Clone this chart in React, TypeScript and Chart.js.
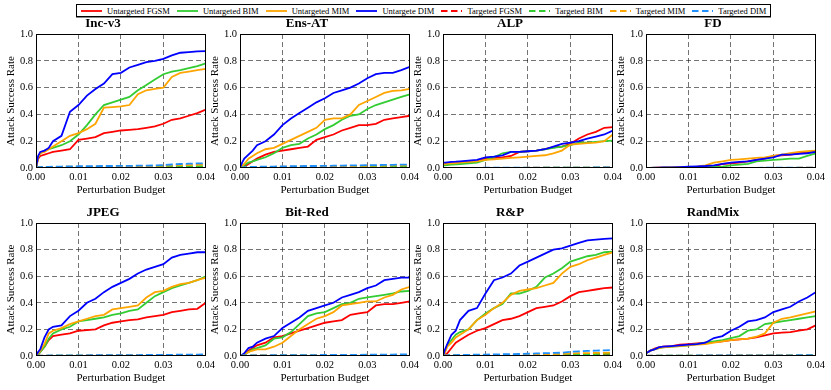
import React, { useEffect, useRef } from 'react';
import { Chart, registerables } from 'chart.js';

Chart.register(...registerables);

// ---------- data ----------
const budgets = [0, 0.0005, 0.001, 0.002, 0.003, 0.004, 0.006, 0.008, 0.010, 0.012, 0.014, 0.016, 0.018, 0.020, 0.022, 0.024, 0.026, 0.028, 0.030, 0.032, 0.034, 0.036, 0.038, 0.040];
const xTicks = [0, 0.01, 0.02, 0.03, 0.04];
const yTicks = [0, 0.2, 0.4, 0.6, 0.8, 1.0];
const seriesNames = ['Untargeted FGSM', 'Untargeted BIM', 'Untargeted MIM', 'Untargete DIM', 'Targeted FGSM', 'Targeted BIM', 'Targeted MIM', 'Targeted DIM'];
const panelTitles = ['Inc-v3', 'Ens-AT', 'ALP', 'FD', 'JPEG', 'Bit-Red', 'R&P', 'RandMix'];

// Inc-v3
const incUFgsm = [0, 0.07, 0.09, 0.10, 0.11, 0.12, 0.13, 0.14, 0.21, 0.22, 0.23, 0.26, 0.27, 0.28, 0.285, 0.29, 0.30, 0.31, 0.33, 0.36, 0.37, 0.39, 0.41, 0.435];
const incUBim = [0, 0.08, 0.11, 0.13, 0.14, 0.15, 0.17, 0.20, 0.25, 0.32, 0.40, 0.47, 0.49, 0.51, 0.53, 0.58, 0.62, 0.66, 0.70, 0.72, 0.73, 0.745, 0.76, 0.78];
const incUMim = [0, 0.08, 0.11, 0.12, 0.14, 0.16, 0.20, 0.24, 0.26, 0.29, 0.33, 0.45, 0.455, 0.46, 0.47, 0.55, 0.58, 0.59, 0.60, 0.68, 0.71, 0.72, 0.73, 0.74];
const incUDim = [0, 0.09, 0.12, 0.13, 0.15, 0.20, 0.24, 0.42, 0.47, 0.54, 0.59, 0.63, 0.70, 0.71, 0.75, 0.77, 0.79, 0.80, 0.815, 0.84, 0.86, 0.865, 0.87, 0.872];
const incTFgsm = [0, 0.002, 0.002, 0.002, 0.002, 0.002, 0.002, 0.002, 0.002, 0.002, 0.002, 0.003, 0.003, 0.003, 0.003, 0.003, 0.003, 0.003, 0.004, 0.004, 0.004, 0.004, 0.004, 0.004];
const incTBim = [0, 0.004, 0.005, 0.005, 0.006, 0.006, 0.007, 0.007, 0.008, 0.008, 0.008, 0.009, 0.009, 0.010, 0.010, 0.010, 0.011, 0.011, 0.012, 0.012, 0.013, 0.013, 0.014, 0.015];
const incTMim = [0, 0.005, 0.006, 0.007, 0.008, 0.008, 0.009, 0.010, 0.010, 0.011, 0.011, 0.012, 0.012, 0.013, 0.013, 0.014, 0.015, 0.016, 0.018, 0.020, 0.021, 0.022, 0.024, 0.025];
const incTDim = [0, 0.006, 0.007, 0.008, 0.009, 0.010, 0.011, 0.012, 0.013, 0.013, 0.014, 0.015, 0.015, 0.016, 0.016, 0.017, 0.018, 0.019, 0.022, 0.026, 0.030, 0.032, 0.034, 0.035];

// Ens-AT
const ensUFgsm = [0, 0.005, 0.01, 0.03, 0.05, 0.07, 0.10, 0.12, 0.13, 0.14, 0.15, 0.16, 0.21, 0.23, 0.25, 0.28, 0.30, 0.32, 0.32, 0.33, 0.36, 0.37, 0.38, 0.39];
const ensUBim = [0, 0.01, 0.02, 0.04, 0.05, 0.06, 0.08, 0.11, 0.15, 0.17, 0.18, 0.22, 0.25, 0.29, 0.32, 0.36, 0.39, 0.40, 0.44, 0.47, 0.49, 0.51, 0.53, 0.55];
const ensUMim = [0, 0.015, 0.03, 0.07, 0.09, 0.11, 0.14, 0.15, 0.18, 0.21, 0.24, 0.27, 0.30, 0.36, 0.37, 0.37, 0.40, 0.47, 0.50, 0.53, 0.56, 0.575, 0.58, 0.59];
const ensUDim = [0, 0.04, 0.07, 0.10, 0.13, 0.17, 0.20, 0.25, 0.32, 0.37, 0.41, 0.45, 0.49, 0.52, 0.56, 0.58, 0.60, 0.63, 0.67, 0.70, 0.71, 0.71, 0.73, 0.755];
const ensTFgsm = [0, 0.002, 0.002, 0.003, 0.003, 0.003, 0.003, 0.004, 0.004, 0.004, 0.004, 0.005, 0.005, 0.005, 0.005, 0.005, 0.006, 0.006, 0.006, 0.006, 0.006, 0.007, 0.007, 0.007];
const ensTBim = [0, 0.003, 0.004, 0.005, 0.005, 0.006, 0.006, 0.007, 0.007, 0.008, 0.008, 0.009, 0.009, 0.010, 0.010, 0.010, 0.011, 0.011, 0.012, 0.012, 0.012, 0.013, 0.013, 0.013];
const ensTMim = [0, 0.004, 0.005, 0.006, 0.007, 0.007, 0.008, 0.009, 0.010, 0.010, 0.011, 0.012, 0.012, 0.013, 0.014, 0.014, 0.015, 0.016, 0.017, 0.017, 0.018, 0.019, 0.019, 0.020];
const ensTDim = [0, 0.005, 0.006, 0.007, 0.008, 0.009, 0.010, 0.011, 0.012, 0.013, 0.014, 0.015, 0.015, 0.016, 0.017, 0.018, 0.019, 0.020, 0.021, 0.022, 0.023, 0.024, 0.025, 0.026];

// ALP
const alpUFgsm = [0.03, 0.03, 0.032, 0.035, 0.037, 0.04, 0.045, 0.05, 0.07, 0.075, 0.08, 0.09, 0.12, 0.125, 0.13, 0.14, 0.155, 0.16, 0.18, 0.22, 0.25, 0.27, 0.30, 0.305];
const alpUBim = [0.02, 0.02, 0.022, 0.025, 0.027, 0.03, 0.035, 0.04, 0.06, 0.08, 0.11, 0.12, 0.12, 0.125, 0.13, 0.14, 0.15, 0.16, 0.17, 0.19, 0.19, 0.195, 0.20, 0.205];
const alpUMim = [0.03, 0.03, 0.032, 0.035, 0.037, 0.04, 0.045, 0.05, 0.06, 0.065, 0.07, 0.075, 0.08, 0.085, 0.09, 0.095, 0.11, 0.13, 0.175, 0.18, 0.185, 0.19, 0.20, 0.25];
const alpUDim = [0.04, 0.04, 0.042, 0.045, 0.047, 0.05, 0.055, 0.06, 0.08, 0.085, 0.095, 0.12, 0.12, 0.125, 0.13, 0.14, 0.16, 0.18, 0.19, 0.20, 0.22, 0.235, 0.25, 0.28];
const alpTFgsm = [0, 0, 0, 0, 0, 0, 0, 0, 0, 0, 0, 0, 0.001, 0.001, 0.001, 0.001, 0.001, 0.001, 0.001, 0.001, 0.001, 0.001, 0.002, 0.002];
const alpTBim = [0, 0, 0, 0, 0, 0, 0, 0.001, 0.001, 0.001, 0.001, 0.001, 0.001, 0.001, 0.001, 0.002, 0.002, 0.002, 0.002, 0.002, 0.002, 0.002, 0.002, 0.002];
const alpTMim = [0, 0, 0, 0, 0, 0.001, 0.001, 0.001, 0.001, 0.001, 0.001, 0.001, 0.001, 0.002, 0.002, 0.002, 0.002, 0.002, 0.002, 0.002, 0.003, 0.003, 0.003, 0.003];
const alpTDim = [0, 0.001, 0.001, 0.001, 0.001, 0.001, 0.001, 0.001, 0.002, 0.002, 0.002, 0.002, 0.002, 0.002, 0.002, 0.003, 0.003, 0.003, 0.003, 0.003, 0.003, 0.004, 0.004, 0.004];

// FD
const fdUFgsm = [0, 0, 0.001, 0.001, 0.002, 0.002, 0.003, 0.004, 0.005, 0.006, 0.008, 0.01, 0.03, 0.035, 0.04, 0.05, 0.06, 0.07, 0.09, 0.095, 0.10, 0.11, 0.115, 0.12];
const fdUBim = [0, 0, 0.001, 0.001, 0.001, 0.002, 0.002, 0.003, 0.004, 0.005, 0.006, 0.008, 0.01, 0.02, 0.025, 0.03, 0.05, 0.055, 0.06, 0.065, 0.07, 0.07, 0.09, 0.11];
const fdUMim = [0, 0, 0.001, 0.002, 0.002, 0.003, 0.004, 0.005, 0.007, 0.01, 0.02, 0.04, 0.05, 0.06, 0.065, 0.07, 0.075, 0.08, 0.09, 0.10, 0.11, 0.12, 0.125, 0.13];
const fdUDim = [0, 0, 0.001, 0.002, 0.003, 0.004, 0.005, 0.007, 0.01, 0.012, 0.015, 0.02, 0.03, 0.04, 0.045, 0.05, 0.06, 0.07, 0.08, 0.10, 0.10, 0.105, 0.11, 0.12];
const fdTFgsm = [0, 0, 0, 0, 0, 0, 0, 0, 0, 0, 0, 0, 0, 0, 0, 0, 0, 0.001, 0.001, 0.001, 0.001, 0.001, 0.001, 0.001];
const fdTBim = [0, 0, 0, 0, 0, 0, 0, 0, 0, 0, 0, 0, 0, 0.001, 0.001, 0.001, 0.001, 0.001, 0.001, 0.001, 0.001, 0.001, 0.001, 0.001];
const fdTMim = [0, 0, 0, 0, 0, 0, 0, 0, 0, 0, 0, 0.001, 0.001, 0.001, 0.001, 0.001, 0.001, 0.001, 0.001, 0.001, 0.001, 0.002, 0.002, 0.002];
const fdTDim = [0, 0, 0, 0, 0, 0, 0, 0, 0, 0.001, 0.001, 0.001, 0.001, 0.001, 0.001, 0.001, 0.001, 0.002, 0.002, 0.002, 0.002, 0.002, 0.002, 0.002];

// JPEG
const jpgUFgsm = [0, 0.01, 0.03, 0.07, 0.12, 0.15, 0.16, 0.17, 0.19, 0.195, 0.20, 0.23, 0.25, 0.26, 0.27, 0.275, 0.29, 0.30, 0.31, 0.33, 0.34, 0.35, 0.355, 0.40];
const jpgUBim = [0, 0.01, 0.03, 0.07, 0.13, 0.17, 0.20, 0.22, 0.26, 0.27, 0.28, 0.29, 0.31, 0.32, 0.34, 0.35, 0.40, 0.45, 0.48, 0.51, 0.53, 0.55, 0.57, 0.60];
const jpgUMim = [0, 0.02, 0.04, 0.09, 0.17, 0.19, 0.21, 0.24, 0.26, 0.28, 0.30, 0.31, 0.35, 0.36, 0.37, 0.38, 0.44, 0.48, 0.49, 0.52, 0.54, 0.55, 0.57, 0.59];
const jpgUDim = [0, 0.03, 0.05, 0.14, 0.20, 0.22, 0.23, 0.30, 0.34, 0.40, 0.43, 0.48, 0.52, 0.55, 0.58, 0.62, 0.65, 0.67, 0.69, 0.74, 0.76, 0.77, 0.78, 0.78];
const jpgTFgsm = [0, 0.001, 0.001, 0.001, 0.001, 0.001, 0.001, 0.001, 0.001, 0.002, 0.002, 0.002, 0.002, 0.002, 0.002, 0.002, 0.002, 0.002, 0.002, 0.003, 0.003, 0.003, 0.003, 0.003];
const jpgTBim = [0, 0.001, 0.001, 0.001, 0.001, 0.002, 0.002, 0.002, 0.002, 0.002, 0.002, 0.003, 0.003, 0.003, 0.003, 0.003, 0.003, 0.003, 0.004, 0.004, 0.004, 0.004, 0.004, 0.004];
const jpgTMim = [0, 0.002, 0.002, 0.002, 0.002, 0.002, 0.003, 0.003, 0.003, 0.003, 0.003, 0.004, 0.004, 0.004, 0.004, 0.004, 0.005, 0.005, 0.005, 0.005, 0.006, 0.006, 0.006, 0.007];
const jpgTDim = [0, 0.003, 0.003, 0.003, 0.004, 0.004, 0.004, 0.005, 0.005, 0.005, 0.006, 0.006, 0.006, 0.007, 0.007, 0.007, 0.008, 0.008, 0.009, 0.009, 0.010, 0.010, 0.011, 0.012];

// Bit-Red
const bitUFgsm = [0, 0.005, 0.01, 0.04, 0.06, 0.08, 0.10, 0.14, 0.15, 0.17, 0.19, 0.21, 0.23, 0.25, 0.26, 0.27, 0.31, 0.32, 0.33, 0.38, 0.39, 0.39, 0.40, 0.41];
const bitUBim = [0, 0.005, 0.01, 0.03, 0.05, 0.06, 0.08, 0.13, 0.14, 0.18, 0.24, 0.30, 0.32, 0.33, 0.36, 0.39, 0.40, 0.43, 0.44, 0.45, 0.46, 0.47, 0.485, 0.49];
const bitUMim = [0, 0.005, 0.01, 0.03, 0.04, 0.05, 0.05, 0.07, 0.10, 0.15, 0.20, 0.24, 0.28, 0.30, 0.33, 0.38, 0.39, 0.40, 0.41, 0.41, 0.44, 0.46, 0.50, 0.52];
const bitUDim = [0, 0.01, 0.02, 0.06, 0.07, 0.10, 0.13, 0.15, 0.21, 0.25, 0.29, 0.34, 0.36, 0.38, 0.40, 0.44, 0.46, 0.48, 0.51, 0.53, 0.57, 0.58, 0.59, 0.59];
const bitTFgsm = [0, 0.001, 0.001, 0.001, 0.002, 0.002, 0.002, 0.002, 0.002, 0.002, 0.003, 0.003, 0.003, 0.003, 0.003, 0.003, 0.003, 0.004, 0.004, 0.004, 0.004, 0.004, 0.004, 0.004];
const bitTBim = [0, 0.002, 0.002, 0.002, 0.003, 0.003, 0.003, 0.003, 0.004, 0.004, 0.004, 0.004, 0.004, 0.005, 0.005, 0.005, 0.005, 0.005, 0.006, 0.006, 0.006, 0.006, 0.006, 0.006];
const bitTMim = [0, 0.002, 0.003, 0.003, 0.003, 0.004, 0.004, 0.004, 0.005, 0.005, 0.005, 0.005, 0.006, 0.006, 0.006, 0.006, 0.007, 0.007, 0.007, 0.007, 0.008, 0.008, 0.008, 0.008];
const bitTDim = [0, 0.003, 0.004, 0.004, 0.005, 0.005, 0.005, 0.006, 0.006, 0.006, 0.007, 0.007, 0.007, 0.008, 0.008, 0.008, 0.009, 0.009, 0.010, 0.010, 0.011, 0.011, 0.012, 0.012];

// R&P
const rpUFgsm = [0, 0.01, 0.02, 0.06, 0.10, 0.12, 0.16, 0.19, 0.21, 0.24, 0.27, 0.28, 0.30, 0.33, 0.36, 0.37, 0.38, 0.41, 0.45, 0.48, 0.49, 0.50, 0.51, 0.515];
const rpUBim = [0, 0.04, 0.08, 0.12, 0.16, 0.18, 0.20, 0.27, 0.32, 0.36, 0.39, 0.47, 0.47, 0.49, 0.52, 0.59, 0.62, 0.66, 0.71, 0.73, 0.75, 0.76, 0.78, 0.785];
const rpUMim = [0, 0.03, 0.07, 0.10, 0.14, 0.16, 0.20, 0.27, 0.31, 0.36, 0.40, 0.46, 0.49, 0.50, 0.51, 0.53, 0.55, 0.62, 0.67, 0.69, 0.72, 0.74, 0.76, 0.78];
const rpUDim = [0, 0.05, 0.09, 0.16, 0.19, 0.27, 0.34, 0.36, 0.47, 0.57, 0.59, 0.62, 0.68, 0.71, 0.74, 0.77, 0.80, 0.81, 0.83, 0.85, 0.87, 0.875, 0.88, 0.885];
const rpTFgsm = [0, 0.002, 0.003, 0.003, 0.004, 0.004, 0.005, 0.005, 0.006, 0.006, 0.006, 0.007, 0.007, 0.008, 0.008, 0.008, 0.009, 0.009, 0.010, 0.011, 0.011, 0.012, 0.012, 0.012];
const rpTBim = [0, 0.002, 0.003, 0.004, 0.004, 0.005, 0.005, 0.006, 0.006, 0.007, 0.007, 0.008, 0.008, 0.009, 0.009, 0.010, 0.010, 0.011, 0.013, 0.014, 0.015, 0.015, 0.016, 0.016];
const rpTMim = [0, 0.003, 0.004, 0.004, 0.005, 0.005, 0.006, 0.006, 0.007, 0.008, 0.008, 0.009, 0.010, 0.011, 0.012, 0.013, 0.014, 0.016, 0.020, 0.021, 0.022, 0.023, 0.024, 0.025];
const rpTDim = [0, 0.004, 0.005, 0.006, 0.007, 0.008, 0.009, 0.010, 0.011, 0.012, 0.013, 0.014, 0.015, 0.017, 0.019, 0.021, 0.023, 0.025, 0.032, 0.035, 0.038, 0.040, 0.043, 0.045];

// RandMix
const rmUFgsm = [0.02, 0.03, 0.04, 0.055, 0.065, 0.07, 0.075, 0.085, 0.09, 0.095, 0.10, 0.105, 0.11, 0.12, 0.125, 0.13, 0.14, 0.155, 0.17, 0.175, 0.18, 0.19, 0.20, 0.23];
const rmUBim = [0.02, 0.03, 0.04, 0.05, 0.06, 0.065, 0.07, 0.075, 0.08, 0.09, 0.10, 0.11, 0.12, 0.135, 0.15, 0.19, 0.20, 0.24, 0.25, 0.26, 0.27, 0.28, 0.29, 0.30];
const rmUMim = [0.02, 0.03, 0.04, 0.05, 0.06, 0.065, 0.07, 0.075, 0.08, 0.085, 0.09, 0.10, 0.11, 0.12, 0.125, 0.13, 0.145, 0.17, 0.25, 0.28, 0.29, 0.305, 0.32, 0.335];
const rmUDim = [0.02, 0.03, 0.04, 0.05, 0.065, 0.07, 0.075, 0.08, 0.085, 0.09, 0.10, 0.135, 0.15, 0.19, 0.22, 0.26, 0.27, 0.29, 0.33, 0.35, 0.37, 0.41, 0.44, 0.48];
const rmTFgsm = [0, 0.001, 0.001, 0.001, 0.001, 0.001, 0.001, 0.001, 0.001, 0.001, 0.002, 0.002, 0.002, 0.002, 0.002, 0.002, 0.002, 0.002, 0.002, 0.002, 0.002, 0.003, 0.003, 0.003];
const rmTBim = [0, 0.001, 0.001, 0.001, 0.002, 0.002, 0.002, 0.002, 0.002, 0.002, 0.002, 0.002, 0.003, 0.003, 0.003, 0.003, 0.003, 0.003, 0.003, 0.003, 0.004, 0.004, 0.004, 0.004];
const rmTMim = [0, 0.002, 0.002, 0.002, 0.002, 0.002, 0.002, 0.003, 0.003, 0.003, 0.003, 0.003, 0.003, 0.003, 0.004, 0.004, 0.004, 0.004, 0.004, 0.004, 0.005, 0.005, 0.005, 0.005];
const rmTDim = [0, 0.002, 0.002, 0.003, 0.003, 0.003, 0.003, 0.003, 0.003, 0.004, 0.004, 0.004, 0.004, 0.004, 0.004, 0.005, 0.005, 0.005, 0.005, 0.005, 0.005, 0.006, 0.006, 0.006];

const panelSeries = [
  [incUFgsm, incUBim, incUMim, incUDim, incTFgsm, incTBim, incTMim, incTDim],
  [ensUFgsm, ensUBim, ensUMim, ensUDim, ensTFgsm, ensTBim, ensTMim, ensTDim],
  [alpUFgsm, alpUBim, alpUMim, alpUDim, alpTFgsm, alpTBim, alpTMim, alpTDim],
  [fdUFgsm, fdUBim, fdUMim, fdUDim, fdTFgsm, fdTBim, fdTMim, fdTDim],
  [jpgUFgsm, jpgUBim, jpgUMim, jpgUDim, jpgTFgsm, jpgTBim, jpgTMim, jpgTDim],
  [bitUFgsm, bitUBim, bitUMim, bitUDim, bitTFgsm, bitTBim, bitTMim, bitTDim],
  [rpUFgsm, rpUBim, rpUMim, rpUDim, rpTFgsm, rpTBim, rpTMim, rpTDim],
  [rmUFgsm, rmUBim, rmUMim, rmUDim, rmTFgsm, rmTBim, rmTMim, rmTDim],
];

// ---------- styles ----------
const FONT = '"Liberation Serif", "Times New Roman", serif';
const seriesColors = ['#ff0000', '#33cc33', '#ffa500', '#0000ff', '#ff0000', '#33cc33', '#ffa500', '#1e90ff'];
const DASH = [7, 3];
const GRID_COLOR = 'rgba(0,0,0,0.55)';

const plotLefts = [36, 240, 443, 646];
const plotTops = [34, 223];
const plotHeights = [134, 133];
const Y_AXIS_W = 36;
const X_AXIS_H = 32;
const TITLE_H = 20;
const PLOT_W = 170;
const PAD_R = 12;

const framePlugin = {
  id: 'frame',
  afterDraw(chart: any) {
    const { ctx, chartArea } = chart;
    ctx.save();
    ctx.strokeStyle = '#000';
    ctx.lineWidth = 1;
    ctx.strokeRect(
      Math.round(chartArea.left) + 0.5,
      Math.round(chartArea.top) + 0.5,
      Math.round(chartArea.right - chartArea.left) - 1,
      Math.round(chartArea.bottom - chartArea.top) - 1
    );
    ctx.restore();
  },
};

function Panel({ idx }: { idx: number }) {
  const ref = useRef<HTMLCanvasElement | null>(null);
  const col = idx % 4;
  const row = Math.floor(idx / 4);
  const width = Y_AXIS_W + PLOT_W + PAD_R;
  const height = TITLE_H + plotHeights[row] + X_AXIS_H;

  useEffect(() => {
    if (!ref.current) return;
    const datasets = panelSeries[idx].map((vals, i) => ({
      label: seriesNames[i],
      data: budgets.map((b, j) => ({ x: b, y: vals[j] })),
      borderColor: seriesColors[i],
      backgroundColor: seriesColors[i],
      borderWidth: 1.8,
      borderDash: i >= 4 ? DASH : [],
      pointRadius: 0,
      tension: 0,
      fill: false,
      order: 7 - i,
    }));
    const tickFont = { family: FONT, size: 10.5 };
    const titleFont = { family: FONT, size: 11 };
    const chart = new Chart(ref.current, {
      type: 'line',
      data: { datasets },
      plugins: [framePlugin],
      options: {
        animation: false,
        responsive: false,
        maintainAspectRatio: false,
        layout: { padding: { left: 0, right: PAD_R, top: 0, bottom: 0 } },
        plugins: {
          legend: { display: false },
          tooltip: { enabled: false },
          title: {
            display: true,
            text: panelTitles[idx],
            color: '#000',
            font: { family: FONT, size: 13, weight: 'bold' },
            padding: { top: 2, bottom: 2.4 },
          },
        },
        scales: {
          x: {
            type: 'linear',
            min: xTicks[0],
            max: xTicks[xTicks.length - 1],
            afterFit: (s: any) => { s.height = X_AXIS_H; },
            afterBuildTicks: (s: any) => { s.ticks = xTicks.map((v) => ({ value: v })); },
            ticks: {
              maxRotation: 0,
              minRotation: 0,
              padding: 3,
              color: '#000',
              font: tickFont,
              callback: (v: any) => Number(v).toFixed(2),
            },
            grid: {
              drawTicks: false,
              lineWidth: 1,
              color: (c: any) => (c.tick && c.tick.value > 1e-9 && c.tick.value < 0.04 - 1e-9 ? GRID_COLOR : 'rgba(0,0,0,0)'),
            },
            border: { display: false, dash: [5, 3] },
            title: {
              display: true,
              text: 'Perturbation Budget',
              color: '#000',
              font: titleFont,
              padding: { top: 0, bottom: 3.4 },
            },
          },
          y: {
            type: 'linear',
            min: yTicks[0],
            max: yTicks[yTicks.length - 1],
            afterFit: (s: any) => { s.width = Y_AXIS_W; },
            afterBuildTicks: (s: any) => { s.ticks = yTicks.map((v) => ({ value: v })); },
            ticks: {
              padding: 3,
              color: '#000',
              font: tickFont,
              callback: (v: any) => Number(v).toFixed(1),
            },
            grid: {
              drawTicks: false,
              lineWidth: 1,
              color: (c: any) => (c.tick && c.tick.value > 1e-9 && c.tick.value < 1 - 1e-9 ? GRID_COLOR : 'rgba(0,0,0,0)'),
            },
            border: { display: false, dash: [5, 3] },
            title: {
              display: true,
              text: 'Attack Success Rate',
              color: '#000',
              font: titleFont,
              padding: { top: 4.4, bottom: 0 },
            },
          },
        },
      } as any,
    });
    return () => chart.destroy();
  }, [idx]);

  return (
    <canvas
      ref={ref}
      width={width}
      height={height}
      style={{
        position: 'absolute',
        left: plotLefts[col] - Y_AXIS_W,
        top: plotTops[row] - TITLE_H,
        width,
        height,
      }}
    />
  );
}

function LegendBox() {
  return (
    <div
      style={{
        position: 'absolute',
        left: 76,
        top: 4,
        height: 11,
        display: 'flex',
        alignItems: 'center',
        border: '1px solid #000',
        boxShadow: '0 1px 0 #888',
        padding: '0 4px',
        background: '#fff',
        fontFamily: FONT,
        fontSize: 8.5,
        lineHeight: '10px',
        whiteSpace: 'nowrap',
        color: '#000',
      }}
    >
      {seriesNames.map((name, i) => (
        <span key={name} style={{ display: 'inline-flex', alignItems: 'center', marginRight: i < seriesNames.length - 1 ? 7 : 0 }}>
          <svg width={21} height={4} style={{ display: 'block' }}>
            <line
              x1={0}
              y1={2}
              x2={21}
              y2={2}
              stroke={seriesColors[i]}
              strokeWidth={1.8}
              strokeDasharray={i >= 4 ? '6.5,3.5' : undefined}
            />
          </svg>
          <span style={{ marginLeft: 5 }}>{name}</span>
        </span>
      ))}
    </div>
  );
}

export default function App() {
  return (
    <div style={{ position: 'absolute', left: 0, top: 0, width: 831, height: 390, background: '#fff', overflow: 'hidden' }}>
      <LegendBox />
      {panelTitles.map((_, i) => (
        <Panel key={i} idx={i} />
      ))}
    </div>
  );
}
